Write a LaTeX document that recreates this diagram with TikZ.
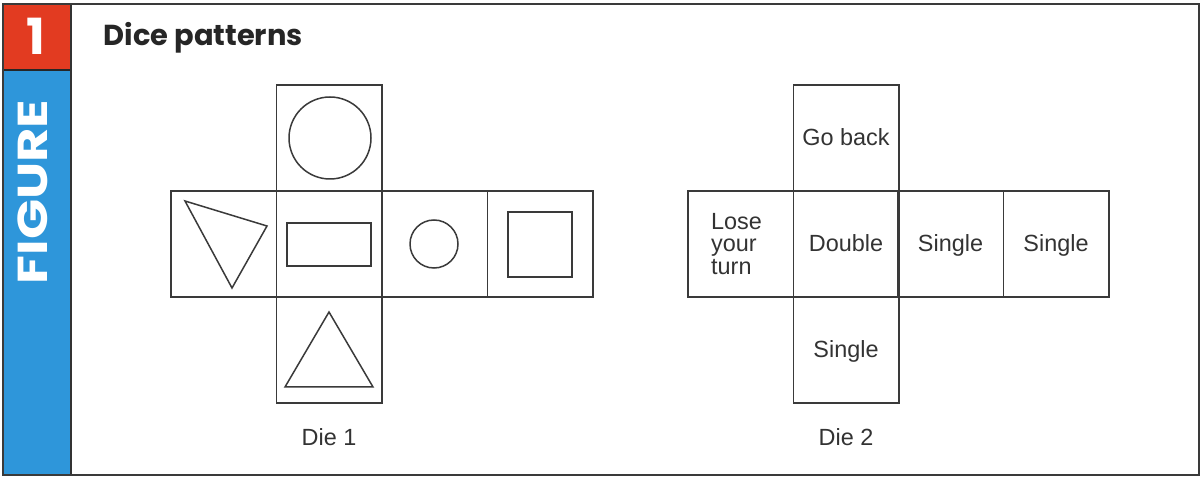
\documentclass[tikz,border=0pt]{standalone}
\usepackage{fontspec}
\setmainfont{Liberation Sans}
\newfontfamily\titlefont{Poppins}
\usetikzlibrary{positioning}
\definecolor{fred}{HTML}{E23B21}
\definecolor{fblue}{HTML}{2E96DA}
\definecolor{ink}{HTML}{3A3A3A}
\definecolor{txt}{HTML}{333333}
\begin{document}
\begin{tikzpicture}[x=1bp,y=-1bp,
  cell/.style={draw=ink,line width=1.5bp,minimum width=105.5bp,minimum height=106bp,inner sep=0pt,font=\fontsize{23.5}{23}\selectfont,text=txt,text height=16bp,text depth=0bp},
  shp/.style={draw=ink,line width=1.5bp},
  lbl/.style={font=\fontsize{23.5}{23}\selectfont,text=txt}]
\useasboundingbox (0,0) rectangle (1203,477);
% frame
\fill[white] (0,0) rectangle (1203,477);
\fill[fred] (3,4) rectangle (70,69);
\fill[fblue] (3,71) rectangle (70,475);
\draw[black!85,line width=2bp] (3,70) -- (70,70);
\draw[black!80,line width=2bp] (71,4) -- (71,475);
\draw[ink,line width=2bp] (3,4) rectangle (1199,475);
\node[text=white,font=\titlefont\bfseries\fontsize{50}{50}\selectfont] (one) at (36,36) {1};
\node[text=white,rotate=90,font=\titlefont\bfseries\fontsize{42}{42}\selectfont] (fig) at (33,192) {\scalebox{1.26}[1]{FIGURE}};
\node[anchor=west,text=black!85,font=\titlefont\bfseries\fontsize{29}{29}\selectfont] (title) at (100,38) {Dice patterns};
% Die 1
\node[cell] (a1) at (223.5,244) {};
\node[cell] (a2) at (329,244) {};
\node[cell] (a3) at (434.5,244) {};
\node[cell] (a4) at (540,244) {};
\node[cell] (a0) at (329,138) {};
\node[cell] (a5) at (329,350) {};
\draw[shp] (330,138) circle (41);
\draw[shp] (185,201) -- (267,226) -- (232,288) -- cycle;
\draw[shp] (287,223) rectangle (371,266);
\draw[shp] (434,244) circle (24);
\draw[shp] (508,212) rectangle (572,277);
\draw[shp] (329,312) -- (373,387) -- (285,387) -- cycle;
\node[lbl] (d1) at (329,437) {Die 1};
% Die 2
\node[cell] (b1) at (740.5,244) {};
\node[cell] (b2) at (846,244) {Double};
\node[cell] (b3) at (950.5,244) {Single};
\node[cell] (b4) at (1056,244) {Single};
\node[cell] (b0) at (846,138) {Go back};
\node[cell] (b5) at (846,350) {Single};
\node[lbl,anchor=west,align=left,inner sep=0pt] (lose) at (711,244) {Lose\\your\\turn};
\node[lbl] (d2) at (846,437) {Die 2};
\end{tikzpicture}
\end{document}
